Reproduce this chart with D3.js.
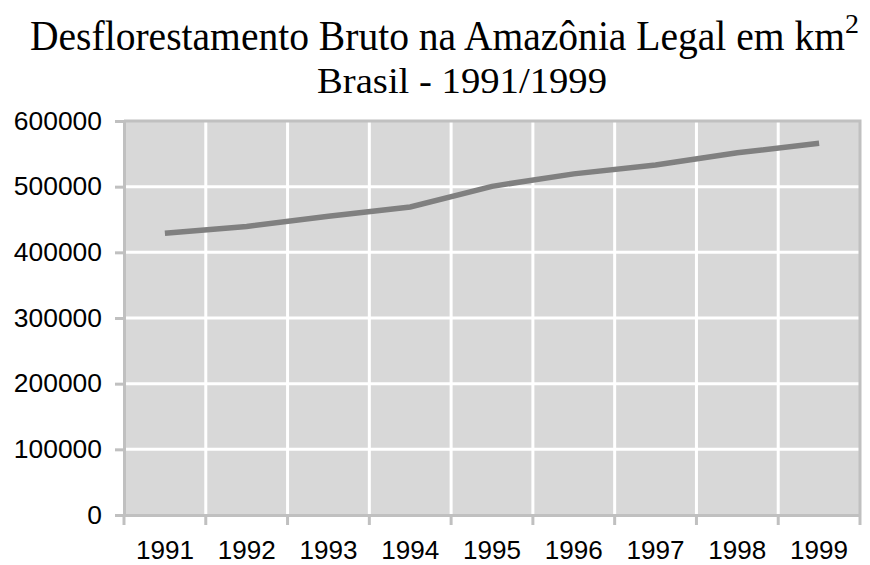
<!DOCTYPE html>
<html>
<head>
<meta charset="utf-8">
<script src="https://cdn.jsdelivr.net/npm/d3@7"></script>
<style>
  body { margin: 0; background: #fff; }
  svg { display: block; }
</style>
</head>
<body>
<div id="chart"></div>
<script>
// data (km2, cumulative)
var years = ["1991", "1992", "1993", "1994", "1995", "1996", "1997", "1998", "1999"];
var area = [429000, 439500, 455000, 469000, 500500, 519500, 533000, 551500, 566000];
var yTicks = [0, 100000, 200000, 300000, 400000, 500000, 600000];

var width = 870, height = 565;
var plotLeft = 124, plotRight = 860, plotTop = 121, plotBottom = 515;

var svg = d3.select("#chart").append("svg")
    .attr("width", width)
    .attr("height", height);

var x = d3.scaleBand().domain(years).range([plotLeft, plotRight]).padding(0);
var y = d3.scaleLinear().domain([0, 600000]).range([plotBottom, plotTop]);

// plot background
svg.append("rect")
    .attr("x", plotLeft).attr("y", plotTop)
    .attr("width", plotRight - plotLeft).attr("height", plotBottom - plotTop)
    .style("fill", "#d8d8d8");

// white grid
svg.append("g").selectAll("line")
    .data(yTicks.filter(function(d) { return d > 0 && d < 600000; }))
    .enter().append("line")
    .attr("x1", plotLeft).attr("x2", plotRight)
    .attr("y1", function(d) { return y(d); })
    .attr("y2", function(d) { return y(d); })
    .style("stroke", "#fff").style("stroke-width", 3);

svg.append("g").selectAll("line")
    .data(years.slice(1))
    .enter().append("line")
    .attr("x1", function(d) { return x(d); })
    .attr("x2", function(d) { return x(d); })
    .attr("y1", plotTop).attr("y2", plotBottom)
    .style("stroke", "#fff").style("stroke-width", 3);

// frame (top / right)
svg.append("path")
    .attr("d", "M" + plotLeft + "," + plotTop + "H" + plotRight + "V" + plotBottom)
    .style("fill", "none").style("stroke", "#c0c0c0").style("stroke-width", 3);

// y axis
var yAxis = d3.axisLeft(y).tickValues(yTicks).tickSize(9).tickPadding(13)
    .tickFormat(d3.format("d"));
var gy = svg.append("g").attr("transform", "translate(" + plotLeft + ",0)").call(yAxis);
gy.select(".domain").style("stroke", "#c0c0c0").style("stroke-width", 3);
gy.selectAll(".tick line").style("stroke", "#c0c0c0").style("stroke-width", 3);
gy.selectAll("text")
    .attr("textLength", function(d) { return String(d).length * 14.7; })
    .attr("lengthAdjust", "spacingAndGlyphs")
    .style("font-family", "Liberation Sans, Arial, sans-serif")
    .style("font-size", "25px")
    .style("fill", "#000");

// x axis: ticks on category boundaries, labels centred
var xAxis = d3.axisBottom(x).tickSize(0).tickPadding(26);
var gx = svg.append("g").attr("transform", "translate(0," + plotBottom + ")").call(xAxis);
gx.select(".domain").style("stroke", "#c0c0c0").style("stroke-width", 3);
gx.selectAll("text")
    .attr("textLength", 58).attr("lengthAdjust", "spacingAndGlyphs")
    .style("font-family", "Liberation Sans, Arial, sans-serif")
    .style("font-size", "25px")
    .style("fill", "#000");
gx.selectAll("line.bnd")
    .data(x.range().slice(0, 1).concat(years.slice(1).map(x), [plotRight]))
    .enter().append("line")
    .attr("class", "bnd")
    .attr("x1", function(d) { return d; })
    .attr("x2", function(d) { return d; })
    .attr("y1", 0).attr("y2", 10)
    .style("stroke", "#c0c0c0").style("stroke-width", 3);

// series line
var line = d3.line()
    .x(function(d, i) { return x(years[i]) + x.bandwidth() / 2; })
    .y(function(d) { return y(d); });

svg.append("path")
    .datum(area)
    .attr("d", line)
    .style("fill", "none")
    .style("stroke", "#808080")
    .style("stroke-width", 5.5);

// titles
var title = svg.append("text")
    .attr("x", 30).attr("y", 50)
    .style("font-family", "Liberation Serif, Times New Roman, serif")
    .style("font-size", "42px")
    .style("fill", "#000");
title.append("tspan")
    .attr("textLength", 815).attr("lengthAdjust", "spacingAndGlyphs")
    .text("Desflorestamento Bruto na Amazônia Legal em km");
title.append("tspan")
    .attr("dy", -17).style("font-size", "28px")
    .text("2");

svg.append("text")
    .attr("x", 462).attr("y", 93)
    .attr("text-anchor", "middle")
    .attr("textLength", 290).attr("lengthAdjust", "spacingAndGlyphs")
    .style("font-family", "Liberation Serif, Times New Roman, serif")
    .style("font-size", "36px")
    .style("fill", "#000")
    .text("Brasil - 1991/1999");
</script>
</body>
</html>
